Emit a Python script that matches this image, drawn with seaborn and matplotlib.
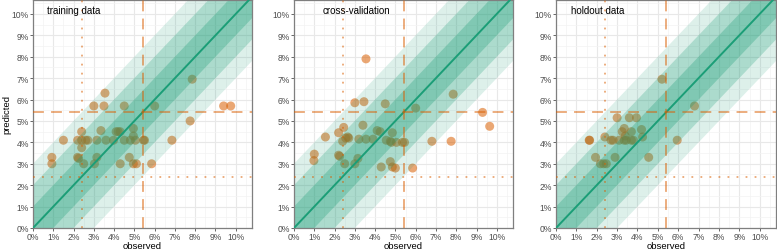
import numpy as np
import pandas as pd
import matplotlib
matplotlib.use("Agg")
import matplotlib.pyplot as plt
from matplotlib.ticker import MultipleLocator, FuncFormatter
import seaborn as sns

# ---- data (percent) ----
train_obs = [0.93, 0.93, 1.5, 2.2, 2.25, 2.2, 2.4, 2.4, 2.4, 2.5, 2.6, 2.7, 3.0, 3.03, 3.15, 3.15,
             3.35, 3.5, 3.55, 3.6, 3.97, 4.1, 4.2, 4.3, 4.3, 4.5, 4.5, 4.75, 4.8, 4.95, 4.95,
             4.95, 5.1, 5.05, 5.45, 5.5, 5.85, 6.0, 6.85, 7.75, 7.85, 9.4, 9.75]
train_pred = [3.3, 3.0, 4.1, 3.3, 3.25, 4.1, 4.5, 4.1, 3.75, 3.0, 4.1, 4.1, 5.7, 3.0, 3.3, 4.1,
              4.55, 5.7, 6.3, 4.1, 4.1, 4.5, 4.5, 4.5, 3.0, 5.7, 4.1, 3.3, 4.1, 4.65, 4.3,
              3.0, 3.0, 4.1, 4.1, 4.1, 3.0, 5.7, 4.1, 5.0, 6.95, 5.7, 5.7]

cv_obs = [1.0, 0.98, 1.55, 2.2, 2.2, 2.25, 2.45, 2.4, 2.55, 2.65, 2.7, 2.5, 3.0, 3.0, 3.15, 3.2,
          3.45, 3.55, 3.4, 3.55, 3.9, 4.1, 4.25, 4.3, 4.5, 4.55, 4.75, 4.75, 4.85, 4.85, 5.0,
          5.05, 5.35, 5.45, 5.85, 6.0, 6.8, 7.75, 7.85, 9.3, 9.65, 4.8]
cv_pred = [3.45, 3.15, 4.25, 4.45, 3.4, 3.35, 4.7, 4.05, 4.2, 4.25, 4.2, 3.0, 5.85, 3.0, 3.25, 4.15,
           5.9, 7.9, 4.8, 4.15, 4.15, 4.55, 4.5, 2.85, 5.8, 4.1, 3.1, 4.05, 4.45, 2.85, 2.8,
           4.0, 4.0, 4.0, 2.8, 5.6, 4.05, 4.05, 6.25, 5.4, 4.75, 4.0]

hold_obs = [1.63, 1.65, 1.94, 2.18, 2.34, 2.47, 2.4, 2.7, 2.8, 2.9, 3.0, 3.1, 3.25, 3.35, 3.35,
            3.45, 3.6, 3.7, 3.7, 3.8, 3.95, 4.2, 4.25, 4.55, 5.2, 5.95, 6.8, 3.4]
hold_pred = [4.1, 4.1, 3.3, 3.0, 3.0, 3.0, 4.25, 4.1, 4.1, 3.3, 5.15, 4.1, 4.5, 4.65, 4.1,
             4.1, 5.15, 4.5, 4.1, 4.1, 5.15, 4.6, 4.25, 3.3, 6.95, 4.1, 5.7, 4.3]

panel_titles = ["training data", "cross-validation", "holdout data"]
title_x = [0.7, 1.4, 0.75]
band_widths = [3, 2, 1]
band_alphas = [0.15, 0.25, 0.3]
ref_dashed = 5.4
ref_dotted = 2.4
tick_values = list(range(0, 11))

green = "#1B9E77"
orange = "#D95F02"

sns.set_theme(style="white")
plt.rcParams['font.family'] = ['Liberation Sans', 'DejaVu Sans']

fig = plt.figure(figsize=(7.77, 2.51), dpi=100)
bottom = 1 - 229 / 251
top = 1 - 1 / 251
lefts = [33, 294, 556]
rights = [252, 513, 776]

datasets = [(train_obs, train_pred), (cv_obs, cv_pred), (hold_obs, hold_pred)]
xmax, ymax = 10.8, 10.65
diag = np.array([0.0, 12.0])

for i, (obs, pred) in enumerate(datasets):
    ax = fig.add_axes([lefts[i] / 777, bottom, (rights[i] - lefts[i]) / 777, top - bottom])
    ax.set_facecolor("white")
    ax.set_xlim(0, xmax)
    ax.set_ylim(0, ymax)
    ax.xaxis.set_major_locator(MultipleLocator(1))
    ax.yaxis.set_major_locator(MultipleLocator(1))
    ax.xaxis.set_minor_locator(MultipleLocator(0.5))
    ax.yaxis.set_minor_locator(MultipleLocator(0.5))
    ax.grid(which="major", color="#E8E8E8", linewidth=0.8, zorder=0)
    ax.grid(which="minor", color="#F3F3F3", linewidth=0.5, zorder=0)
    ax.set_axisbelow(True)

    df = pd.DataFrame({"observed": obs, "predicted": pred})
    sns.scatterplot(data=df, x="observed", y="predicted", ax=ax, color=orange, alpha=0.55,
                    s=42, edgecolor="none", zorder=1)

    for w, a in zip(band_widths, band_alphas):
        ax.fill_between(diag, diag - w, diag + w, color=green, alpha=a, linewidth=0, zorder=2)
    sns.lineplot(x=diag, y=diag, ax=ax, color=green, linewidth=1.4, zorder=3)

    ax.axvline(ref_dashed, color=orange, alpha=0.55, linestyle=(0, (6, 4)), linewidth=1.3, zorder=4)
    ax.axhline(ref_dashed, color=orange, alpha=0.55, linestyle=(0, (6, 4)), linewidth=1.3, zorder=4)
    ax.axvline(ref_dotted, color=orange, alpha=0.55, linestyle=(0, (1, 4)), linewidth=1.3, zorder=4)
    ax.axhline(ref_dotted, color=orange, alpha=0.55, linestyle=(0, (1, 4)), linewidth=1.3, zorder=4)

    ax.text(title_x[i], 10.2, panel_titles[i], fontsize=7, color="black", ha="left", va="center",
            zorder=5)

    ax.set_xticks(tick_values)
    ax.set_yticks(tick_values)
    fmt = FuncFormatter(lambda v, p: f"{int(round(v))}%")
    ax.xaxis.set_major_formatter(fmt)
    ax.yaxis.set_major_formatter(fmt)
    ax.tick_params(axis="both", which="major", labelsize=6.2, colors="#4D4D4D", length=2,
                   width=0.6, pad=1, left=True, bottom=True)
    ax.tick_params(axis="both", which="minor", length=0)
    for sp in ax.spines.values():
        sp.set_color("#7F7F7F")
        sp.set_linewidth(0.9)
    ax.set_xlabel("observed", fontsize=6.8, color="black")
    ax.xaxis.set_label_coords(0.5, -0.058)
    if i == 0:
        ax.set_ylabel("predicted", fontsize=6.8, labelpad=0, color="black")
    else:
        ax.set_ylabel("")

fig.savefig("out.png", dpi=100)
